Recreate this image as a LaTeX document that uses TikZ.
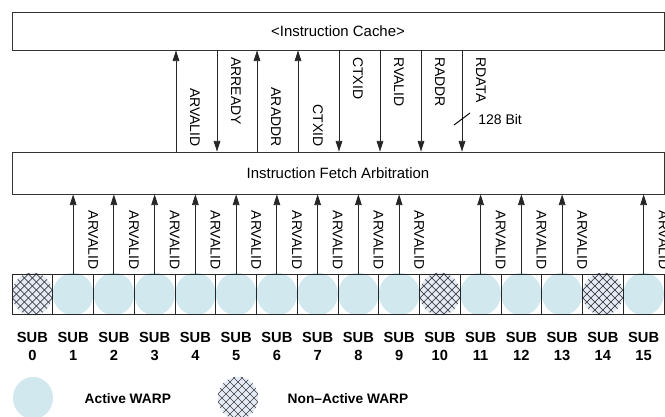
\documentclass[tikz,border=0pt]{standalone}
\usepackage{fontspec}
\setmainfont{Liberation Sans}
\usetikzlibrary{arrows.meta, calc}

\definecolor{activeblue}{RGB}{209,232,238}
\definecolor{offblue}{RGB}{230,236,247}

\tikzset{
  box/.style={draw=black!80, line width=0.6pt, minimum width=489pt, inner sep=0pt,
    font=\fontsize{11.2}{13}\selectfont},
  sig/.style={draw=black!85, line width=0.6pt, -{Triangle[length=8pt,width=5pt]}},
  siglabel/.style={rotate=-90, inner sep=0pt, font=\fontsize{10.5}{12}\selectfont},
  cell/.style={draw=black!85, line width=0.6pt, minimum width=30.56pt,
    minimum height=30pt, inner sep=0pt},
  sublabel/.style={align=center, font=\bfseries\fontsize{11}{13.5}\selectfont},
  legendtext/.style={anchor=west, font=\bfseries\fontsize{10.3}{12}\selectfont},
}

% hatched (non-active) warp, centred on #1
\newcommand\offwarp[1]{%
  \begin{scope}[shift={#1}]
    \clip (0,0) ellipse (15.2pt and 16pt);
    \fill[offblue] (0,0) ellipse (15.2pt and 16pt);
    \foreach \k in {-6,...,6} {
      \draw[black!75, line width=0.5pt] (\k*8-25,-25) -- ++(50,50);
      \draw[black!75, line width=0.5pt] (\k*8-25,25) -- ++(50,-50);
    }
  \end{scope}}

\begin{document}
\begin{tikzpicture}[x=0.75pt, y=-0.75pt]
    \useasboundingbox (0,0) rectangle (665,417);

    % Boxes
    \node[box, minimum height=28.5pt] (cache) at (338,31) {<Instruction Cache>};
    \node[box, minimum height=31.5pt] (arb) at (338,173) {Instruction Fetch Arbitration};

    % Signals between cache and arbitration
    \coordinate (s1) at (176,100);
    \coordinate (s2) at (217,100);
    \coordinate (s3) at (257,100);
    \coordinate (s4) at (298,100);
    \coordinate (s5) at (339,100);
    \coordinate (s6) at (380,100);
    \coordinate (s7) at (421,100);
    \coordinate (s8) at (462,100);

    \draw[sig] (arb.north -| s1) -- (cache.south -| s1);
    \draw[sig] (cache.south -| s2) -- (arb.north -| s2);
    \draw[sig] (arb.north -| s3) -- (cache.south -| s3);
    \draw[sig] (arb.north -| s4) -- (cache.south -| s4);
    \draw[sig] (cache.south -| s5) -- (arb.north -| s5);
    \draw[sig] (cache.south -| s6) -- (arb.north -| s6);
    \draw[sig] (cache.south -| s7) -- (arb.north -| s7);
    \draw[sig] (cache.south -| s8) -- (arb.north -| s8);

    \node[siglabel, anchor=east] (l1) at (195,147) {ARVALID};
    \node[siglabel, anchor=west] (l2) at (236,57) {ARREADY};
    \node[siglabel, anchor=east] (l3) at (276,147) {ARADDR};
    \node[siglabel, anchor=east] (l4) at (318,147) {CTXID};
    \node[siglabel, anchor=west] (l5) at (358,57) {CTXID};
    \node[siglabel, anchor=west] (l6) at (399,57) {RVALID};
    \node[siglabel, anchor=west] (l7) at (440,57) {RADDR};
    \node[siglabel, anchor=west] (l8) at (481,57) {RDATA};

    % bus width mark on RDATA
    \coordinate (bw) at (462,119);
    \draw[black, line width=0.7pt] ($(bw)+(-8,6)$) -- ($(bw)+(8,-6)$);
    \node[anchor=west, inner sep=0pt, font=\fontsize{10.5}{12}\selectfont] (bits) at (478,119) {128 Bit};

    % Warp cells
    \foreach \i in {0,...,15} {
      \pgfmathsetmacro\cx{12+40.75*(\i+0.5)}
      \begin{scope}
        \clip (\cx-20.375,274) rectangle (\cx+20.375,314);
        \fill[activeblue] (\cx,294) ellipse (15.2pt and 16pt);
      \end{scope}
    }
    \offwarp{(32.4,294)}
    \offwarp{(439.9,294)}
    \offwarp{(602.9,294)}
    \foreach \i in {0,...,15} {
      \pgfmathsetmacro\cx{12+40.75*(\i+0.5)}
      \node[cell] (c\i) at (\cx,294) {};
      \node[sublabel] (n\i) at (\cx,346) {SUB\\\i};
    }

    % ARVALID from active warps
    \foreach \i in {1,...,9,11,12,13,15} {
      \draw[sig] (c\i.north) -- (arb.south -| c\i.north);
      \node[siglabel, anchor=east] at ($(c\i.north)+(20,-4)$) {ARVALID};
    }

    % Legend
    \fill[activeblue] (33,398) ellipse (15pt and 15.8pt);
    \node[legendtext] (act) at (80,399) {Active WARP};
    \offwarp{(238,398)}
    \node[legendtext] (nonact) at (283,399) {Non--Active WARP};
\end{tikzpicture}
\end{document}
